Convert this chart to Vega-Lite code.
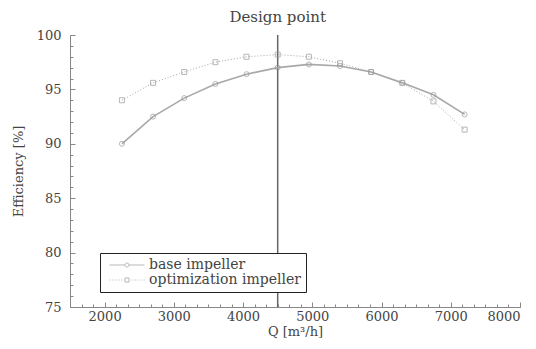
{
  "$schema": "https://vega.github.io/schema/vega-lite/v6.json",
  "width": 450,
  "height": 272,
  "autosize": "none",
  "padding": {"left": 70, "top": 35, "right": 16, "bottom": 42},
  "config": {
    "font": "DejaVu Serif",
    "view": {"stroke": null},
    "axis": {
      "grid": false,
      "domainColor": "#888",
      "tickColor": "#888",
      "labelColor": "#444",
      "titleColor": "#444",
      "labelFont": "DejaVu Serif",
      "titleFont": "DejaVu Serif",
      "labelFontSize": 13,
      "titleFontSize": 13,
      "titleFontWeight": "normal"
    }
  },
  "resolve": {"axis": {"x": "independent", "y": "independent"}, "scale": {"shape": "independent"}, "legend": {"shape": "independent"}},
  "datasets": {
    "curves": [
      {"Q": 2250, "eff": 90.0, "series": "base impeller"},
      {"Q": 2700, "eff": 92.5, "series": "base impeller"},
      {"Q": 3150, "eff": 94.2, "series": "base impeller"},
      {"Q": 3600, "eff": 95.5, "series": "base impeller"},
      {"Q": 4050, "eff": 96.4, "series": "base impeller"},
      {"Q": 4500, "eff": 97.0, "series": "base impeller"},
      {"Q": 4950, "eff": 97.3, "series": "base impeller"},
      {"Q": 5400, "eff": 97.15, "series": "base impeller"},
      {"Q": 5850, "eff": 96.6, "series": "base impeller"},
      {"Q": 6300, "eff": 95.6, "series": "base impeller"},
      {"Q": 6750, "eff": 94.5, "series": "base impeller"},
      {"Q": 7200, "eff": 92.7, "series": "base impeller"},
      {"Q": 2250, "eff": 94.0, "series": "optimization impeller"},
      {"Q": 2700, "eff": 95.6, "series": "optimization impeller"},
      {"Q": 3150, "eff": 96.6, "series": "optimization impeller"},
      {"Q": 3600, "eff": 97.5, "series": "optimization impeller"},
      {"Q": 4050, "eff": 98.0, "series": "optimization impeller"},
      {"Q": 4500, "eff": 98.2, "series": "optimization impeller"},
      {"Q": 4950, "eff": 98.0, "series": "optimization impeller"},
      {"Q": 5400, "eff": 97.4, "series": "optimization impeller"},
      {"Q": 5850, "eff": 96.6, "series": "optimization impeller"},
      {"Q": 6300, "eff": 95.6, "series": "optimization impeller"},
      {"Q": 6750, "eff": 93.9, "series": "optimization impeller"},
      {"Q": 7200, "eff": 91.3, "series": "optimization impeller"}
    ],
    "design": [{"Q": 4500, "eff": 100, "label": "Design point"}]
  },
  "layer": [
    {
      "data": {"name": "design"},
      "mark": {"type": "rule", "color": "#666", "strokeWidth": 1.5},
      "encoding": {
        "x": {"field": "Q", "type": "quantitative", "scale": {"domain": [1500, 8000], "nice": false},
          "axis": {"title": "Q [m³/h]", "orient": "bottom", "values": [2000, 3000, 4000, 5000, 6000, 7000, 8000], "tickSize": -5, "labelPadding": 8, "titlePadding": 2, "format": "d"}}
      }
    },
    {
      "data": {"name": "curves"},
      "transform": [{"filter": "datum.series === 'base impeller'"}],
      "mark": {"type": "line", "color": "#a8a8a8", "strokeWidth": 1.6},
      "encoding": {
        "x": {"field": "Q", "type": "quantitative",
          "axis": {"orient": "bottom", "title": null, "labels": false, "domain": false, "tickSize": -3,
            "values": [1500, 1666.667, 1833.333, 2000, 2166.667, 2333.333, 2500, 2666.667, 2833.333, 3000, 3166.667, 3333.333, 3500, 3666.667, 3833.333, 4000, 4166.667, 4333.333, 4500, 4666.667, 4833.333, 5000, 5166.667, 5333.333, 5500, 5666.667, 5833.333, 6000, 6166.667, 6333.333, 6500, 6666.667, 6833.333, 7000, 7166.667, 7333.333, 7500, 7666.667, 7833.333, 8000]}},
        "y": {"field": "eff", "type": "quantitative", "scale": {"domain": [75, 100], "nice": false},
          "axis": {"title": "Efficiency [%]", "orient": "left", "values": [75, 80, 85, 90, 95, 100], "tickSize": -5, "labelPadding": 14, "titlePadding": 11}}
      }
    },
    {
      "data": {"name": "curves"},
      "transform": [{"filter": "datum.series === 'optimization impeller'"}],
      "mark": {"type": "line", "color": "#a8a8a8", "strokeWidth": 1, "strokeDash": [1, 2]},
      "encoding": {
        "x": {"field": "Q", "type": "quantitative", "axis": null},
        "y": {"field": "eff", "type": "quantitative", "axis": null}
      }
    },
    {
      "data": {"name": "curves"},
      "mark": {"type": "point", "filled": false, "color": "#999", "size": 25, "strokeWidth": 1},
      "encoding": {
        "x": {"field": "Q", "type": "quantitative", "axis": null},
        "y": {"field": "eff", "type": "quantitative",
          "axis": {"orient": "left", "title": null, "labels": false, "domain": false, "tickSize": -3,
            "values": [75, 76, 77, 78, 79, 80, 81, 82, 83, 84, 85, 86, 87, 88, 89, 90, 91, 92, 93, 94, 95, 96, 97, 98, 99, 100]}},
        "shape": {"field": "series", "type": "nominal",
          "scale": {"domain": ["base impeller", "optimization impeller"], "range": ["circle", "square"]},
          "legend": null}
      }
    },
    {
      "data": {"name": "curves"},
      "transform": [{"filter": "datum.Q < 0"}],
      "mark": {"type": "point", "filled": false, "color": "#999", "strokeWidth": 1},
      "encoding": {
        "x": {"field": "Q", "type": "quantitative", "axis": null},
        "y": {"field": "eff", "type": "quantitative", "axis": null},
        "shape": {"field": "series", "type": "nominal",
          "scale": {"domain": ["base impeller", "optimization impeller"],
            "range": ["M-0.5,0H2.6M3.4,0H6.5M3.4,0A0.4,0.4 0 1 1 2.6,0A0.4,0.4 0 1 1 3.4,0", "M-0.5,0h0.2M0.1,0h0.2M0.7,0h0.2M1.3,0h0.2M1.9,0h0.2M2.6,-0.4H3.4V0.4H2.6ZM3.9,0h0.2M4.5,0h0.2M5.1,0h0.2M5.7,0h0.2M6.3,0h0.2"]},
          "legend": {"title": null, "orient": "none", "legendX": 30, "legendY": 218,
            "strokeColor": "#222", "padding": 5, "labelFontSize": 14, "labelColor": "#444",
            "labelFont": "DejaVu Serif", "symbolStrokeColor": "#999", "symbolSize": 100, "symbolStrokeWidth": 1,
            "rowPadding": 1, "labelOffset": 30, "fillColor": "white"}}
      }
    },
    {
      "data": {"name": "design"},
      "mark": {"type": "text", "dy": -18, "fontSize": 15, "color": "#444", "font": "DejaVu Serif"},
      "encoding": {
        "x": {"field": "Q", "type": "quantitative", "axis": null},
        "y": {"field": "eff", "type": "quantitative", "axis": null},
        "text": {"field": "label"}
      }
    }
  ]
}
